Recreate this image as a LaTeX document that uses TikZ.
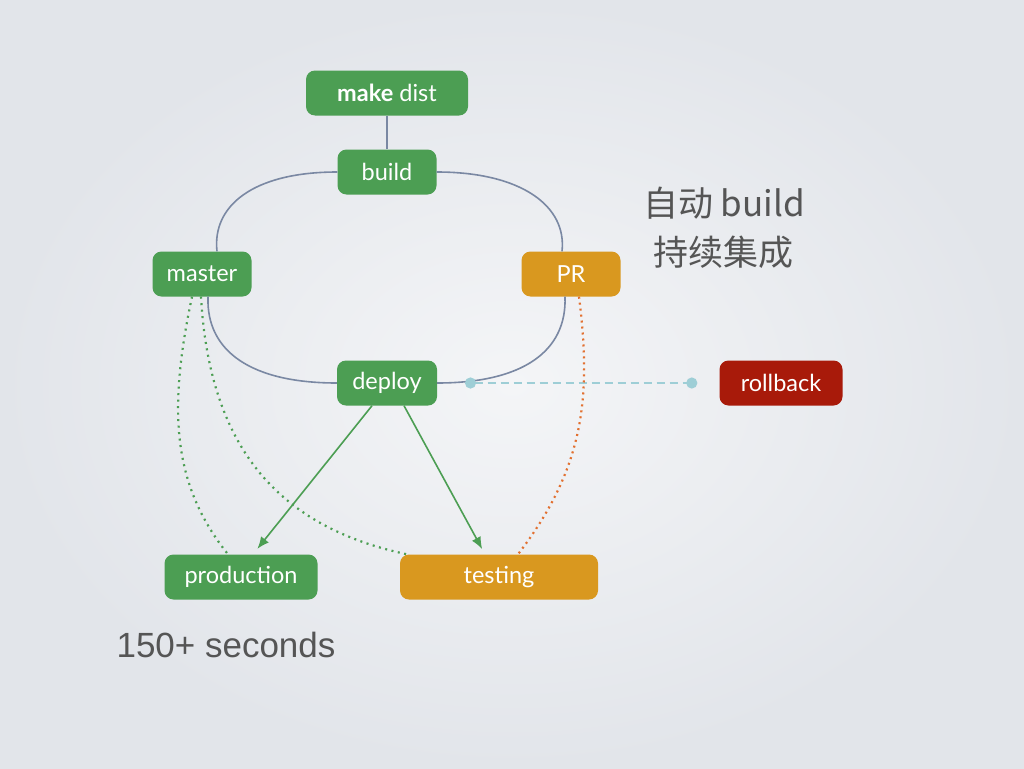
\documentclass[tikz,border=0pt]{standalone}
\usepackage{fontspec}
\setmainfont{Lato}
\newfontfamily\cjk{Noto Sans CJK SC}
\newfontfamily\helv{Liberation Sans}
\usetikzlibrary{arrows.meta}
\definecolor{boxgreen}{RGB}{76,158,83}
\definecolor{boxorange}{RGB}{217,152,31}
\definecolor{boxred}{RGB}{168,26,10}
\definecolor{loopgray}{RGB}{122,136,163}
\definecolor{hookblue}{RGB}{158,206,214}
\definecolor{dotorange}{RGB}{226,112,48}
\definecolor{notegray}{RGB}{85,85,85}
\begin{document}
\begin{tikzpicture}[x=1pt,y=-1pt,
        box/.style={rounded corners=9pt,text=white,inner sep=0pt,minimum height=45pt,
            font=\fontsize{23.5}{23.5}\selectfont},
        gbox/.style={box,fill=boxgreen}, obox/.style={box,fill=boxorange}, rbox/.style={box,fill=boxred},
        loop/.style={draw=loopgray,line width=1.6pt},
        push/.style={draw=boxgreen,line width=1.6pt,-{Latex[length=12pt,width=10pt]}},
        gdots/.style={draw=boxgreen,line width=2.2pt,dash pattern=on 2pt off 4.5pt},
        odots/.style={draw=dotorange,line width=2.2pt,dash pattern=on 2pt off 4pt},
        hook/.style={draw=hookblue,line width=2.6pt,dash pattern=on 8pt off 5pt,
            {Circle[length=11pt,sep=0pt]}-{Circle[length=11pt]}},
        note/.style={text=notegray,font=\cjk\fontsize{35}{42}\selectfont}]
        \useasboundingbox (0,0) rectangle (1024,768);
        \shade[inner color={rgb,255:red,244;green,245;blue,247},outer color={rgb,255:red,226;green,229;blue,234}]
            (0,0) rectangle (1024,768);
        % nodes
        \node[gbox,minimum width=162pt] (dist) at (387,93) {\textbf{make} dist};
        \node[gbox,minimum width=99pt] (build) at (387,172) {build};
        \node[gbox,minimum width=99pt] (master) at (202,274) {master};
        \node[obox,minimum width=99pt] (pr) at (571,274) {PR};
        \node[gbox,minimum width=100pt] (deploy) at (387,383) {deploy};
        \node[rbox,minimum width=123pt] (rollback) at (781,383) {rollback};
        \node[gbox,minimum width=153pt] (production) at (241,577) {production};
        \node[obox,minimum width=198pt] (testing) at (499,577) {testing};
        \node[note] (auto) at (724,203) {自动 build};
        \node[note] (ci) at (723,252) {持续集成};
        \node[text=notegray,font=\helv\fontsize{35}{42}\selectfont] (secs) at (226,645) {150+ seconds};
        % the loop
        \draw[loop] (dist) -- (build);
        \draw[loop] (build.west) .. controls +(-85,0) and +(-5,-45) .. ([xshift=15pt]master.north);
        \draw[loop] (build.east) .. controls +(85,0) and +(5,-45) .. ([xshift=-9pt]pr.north);
        \draw[loop] ([xshift=6pt]master.south) .. controls +(-2,55) and +(-85,0) .. (deploy.west);
        \draw[loop] ([xshift=-6pt]pr.south) .. controls +(2,55) and +(85,0) .. (deploy.east);
        % rollback hook
        \coordinate (hook) at (465,383);
        \coordinate (hookend) at ([xshift=-22pt]rollback.west);
        \draw[hook] (hook) -- (hookend);
        % deploy targets
        \draw[push,shorten >=7pt] ([xshift=-15pt]deploy.south) -- ([xshift=12pt]production.north);
        \draw[push,shorten >=6pt] ([xshift=17pt]deploy.south) -- ([xshift=-14pt]testing.north);
        \draw[gdots] ([xshift=-10pt]master.south) .. controls +(-24,113) and +(-56,-70) .. ([xshift=-13pt]production.north);
        \draw[gdots] ([xshift=-1pt]master.south) .. controls +(9,163) and +(-117,-25) .. ([xshift=-92pt]testing.north);
        \draw[odots] ([xshift=8pt]pr.south) .. controls +(13,103) and +(65,-85) .. ([xshift=19pt]testing.north);
\end{tikzpicture}
\end{document}
